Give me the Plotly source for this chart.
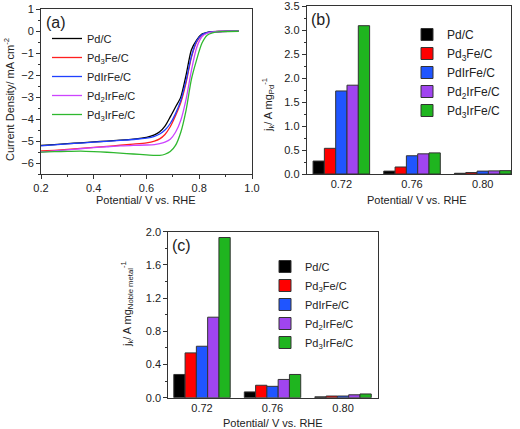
import plotly.graph_objects as go

# ---------------- data ----------------
series_names = ["Pd/C", "Pd<sub>3</sub>Fe/C", "PdIrFe/C", "Pd<sub>2</sub>IrFe/C", "Pd<sub>3</sub>IrFe/C"]

# (a) LSV curves
potential = [0.20, 0.25, 0.30, 0.35, 0.40, 0.45, 0.50, 0.55, 0.60, 0.63, 0.65, 0.67, 0.69,
             0.71, 0.73, 0.75, 0.77, 0.79, 0.81, 0.83, 0.85, 0.88, 0.91, 0.95]
j_pd_c = [-5.20, -5.16, -5.12, -5.08, -5.04, -5.00, -4.96, -4.91, -4.83, -4.72, -4.58, -4.32, -3.90,
          -3.45, -3.00, -2.00, -0.85, -0.40, -0.13, -0.05, -0.02, -0.01, 0.00, 0.00]
j_pd3fe_c = [-5.45, -5.42, -5.38, -5.33, -5.29, -5.24, -5.19, -5.14, -5.08, -5.00, -4.90, -4.70, -4.35,
             -3.85, -3.25, -2.35, -1.20, -0.50, -0.18, -0.07, -0.03, -0.01, 0.00, 0.00]
j_pdirfe_c = [-5.22, -5.17, -5.13, -5.09, -5.05, -5.01, -4.97, -4.93, -4.87, -4.79, -4.68, -4.50, -4.20,
              -3.75, -3.15, -2.25, -1.15, -0.45, -0.16, -0.06, -0.03, -0.01, 0.00, 0.00]
j_pd2irfe_c = [-5.50, -5.45, -5.40, -5.35, -5.30, -5.26, -5.22, -5.20, -5.18, -5.16, -5.12, -5.05, -4.92,
               -4.60, -4.05, -3.10, -1.80, -0.75, -0.25, -0.09, -0.04, -0.01, 0.00, 0.00]
j_pd3irfe_c = [-5.50, -5.48, -5.47, -5.46, -5.48, -5.51, -5.55, -5.59, -5.63, -5.65, -5.65, -5.60, -5.48,
               -5.20, -4.60, -3.60, -2.20, -1.30, -0.55, -0.18, -0.07, -0.02, -0.01, 0.00]

# (b), (c) bar charts
bar_potentials = ["0.72", "0.76", "0.80"]
jk_pd_pd_c = [0.27, 0.06, 0.015]
jk_pd_pd3fe_c = [0.535, 0.146, 0.03]
jk_pd_pdirfe_c = [1.73, 0.38, 0.06]
jk_pd_pd2irfe_c = [1.85, 0.42, 0.065]
jk_pd_pd3irfe_c = [3.09, 0.44, 0.07]

jk_nm_pd_c = [0.28, 0.07, 0.01]
jk_nm_pd3fe_c = [0.54, 0.15, 0.02]
jk_nm_pdirfe_c = [0.62, 0.137, 0.02]
jk_nm_pd2irfe_c = [0.97, 0.22, 0.035]
jk_nm_pd3irfe_c = [1.93, 0.28, 0.045]

x_title = "Potential/ V vs. RHE"
a_y_title = "Current Density/ mA cm<sup>-2</sup>"
b_y_title = "j<sub>k</sub>/ A mg<sub>Pd</sub><sup>-1</sup>"
c_y_title = "j<sub>k</sub>/ A mg<sub>Noble metal</sub><sup>-1</sup>"

# ---------------- style ----------------
line_colors = ["#000000", "#ff2020", "#2040ff", "#cc44ff", "#2fb82f"]
bar_colors = ["#000000", "#ff0000", "#1f55ff", "#a045f0", "#1fb51f"]
FONT = "Arial, Liberation Sans, sans-serif"

fig = go.Figure()

curves = [j_pd_c, j_pd3fe_c, j_pdirfe_c, j_pd2irfe_c, j_pd3irfe_c]
for name, ys, c in zip(series_names, curves, line_colors):
    fig.add_trace(go.Scatter(x=potential, y=ys, name=name, mode="lines",
                             line=dict(color=c, width=1.3, shape="spline", smoothing=0.7),
                             xaxis="x", yaxis="y", legend="legend"))

bars_b = [jk_pd_pd_c, jk_pd_pd3fe_c, jk_pd_pdirfe_c, jk_pd_pd2irfe_c, jk_pd_pd3irfe_c]
for name, ys, c in zip(series_names, bars_b, bar_colors):
    fig.add_trace(go.Bar(x=bar_potentials, y=ys, name=name, marker=dict(color=c, line=dict(color="#333333", width=1)),
                         xaxis="x2", yaxis="y2", legend="legend2"))

bars_c = [jk_nm_pd_c, jk_nm_pd3fe_c, jk_nm_pdirfe_c, jk_nm_pd2irfe_c, jk_nm_pd3irfe_c]
for name, ys, c in zip(series_names, bars_c, bar_colors):
    fig.add_trace(go.Bar(x=bar_potentials, y=ys, name=name, marker=dict(color=c, line=dict(color="#333333", width=1)),
                         xaxis="x3", yaxis="y3", legend="legend3"))

W, H = 520, 429
def px(x):
    return x / W
def py(y):
    return 1 - y / H

axis_common = dict(showline=True, mirror=True, linecolor="#333333", linewidth=1, showgrid=False,
                   zeroline=False, ticks="outside", ticklen=4, tickcolor="#333333", automargin=False,
                   ticklabeloverflow="allow",
                   tickfont=dict(family=FONT, size=11, color="#222222"))
legend_font = dict(family=FONT, size=11, color="#222222")

def label(text, x, y, size=11, angle=0, anchor="center"):
    return dict(text=text, x=px(x), y=py(y), xref="paper", yref="paper", xanchor=anchor, yanchor="middle",
                textangle=angle, showarrow=False, font=dict(family=FONT, size=size, color="#222222"))

fig.update_layout(
    width=W, height=H, margin=dict(l=0, r=0, t=0, b=0),
    paper_bgcolor="white", plot_bgcolor="white",
    barmode="group", bargap=0.2, bargroupgap=0,
    font=dict(family=FONT, size=11, color="#222222"),
    xaxis=dict(domain=[px(41), px(252)], anchor="y", range=[0.2, 1.0], dtick=0.2, tickformat=".1f",
               minor=dict(ticks="outside", ticklen=2, dtick=0.1, tickcolor="#333333"), **axis_common),
    yaxis=dict(domain=[py(174), py(9.3)], anchor="x", range=[-6.5, 1], tickmode="linear", tick0=0, dtick=1,
               minor=dict(ticks="outside", ticklen=2, dtick=0.5, tickcolor="#333333"), **axis_common),
    xaxis2=dict(domain=[px(306.7), px(511)], anchor="y2", type="category", range=[-0.49, 2.4],
                **{**axis_common, "ticks": ""}),
    yaxis2=dict(domain=[py(174), py(6)], anchor="x2", range=[0, 3.5], dtick=0.5, tickformat=".1f",
                minor=dict(ticks="outside", ticklen=2, dtick=0.25, tickcolor="#333333"), **axis_common),
    xaxis3=dict(domain=[px(168.3), px(378.3)], anchor="y3", type="category", range=[-0.478, 2.5],
                **{**axis_common, "ticks": ""}),
    yaxis3=dict(domain=[py(397.7), py(231.7)], anchor="x3", range=[0, 2.0], dtick=0.4, tickformat=".1f",
                minor=dict(ticks="outside", ticklen=2, dtick=0.2, tickcolor="#333333"), **axis_common),
    legend=dict(x=px(47), y=py(24), xanchor="left", yanchor="top", bgcolor="rgba(0,0,0,0)",
                font=legend_font, tracegroupgap=0),
    legend2=dict(x=px(407), y=py(20), xanchor="left", yanchor="top", bgcolor="rgba(0,0,0,0)",
                 font=dict(family=FONT, size=12, color="#222222")),
    legend3=dict(x=px(265), y=py(252), xanchor="left", yanchor="top", bgcolor="rgba(0,0,0,0)",
                 font=legend_font),
    annotations=[
        label("(a)", 44, 22, size=16, anchor="left"),
        label("(b)", 309, 20, size=16, anchor="left"),
        label("(c)", 170, 245, size=16, anchor="left"),
        label(x_title, 146, 200),
        label(x_title, 417, 200),
        label(x_title, 273, 423),
        label(a_y_title, 9, 100, angle=-90),
        label(b_y_title, 268, 105, angle=-90),
        label(c_y_title, 127, 304, angle=-90),
    ],
)

fig.write_html("out.html", config={"displayModeBar": False, "staticPlot": True},
               post_script="document.body.style.margin='0';document.body.style.padding='0';"
                           "document.body.style.overflow='hidden';")
